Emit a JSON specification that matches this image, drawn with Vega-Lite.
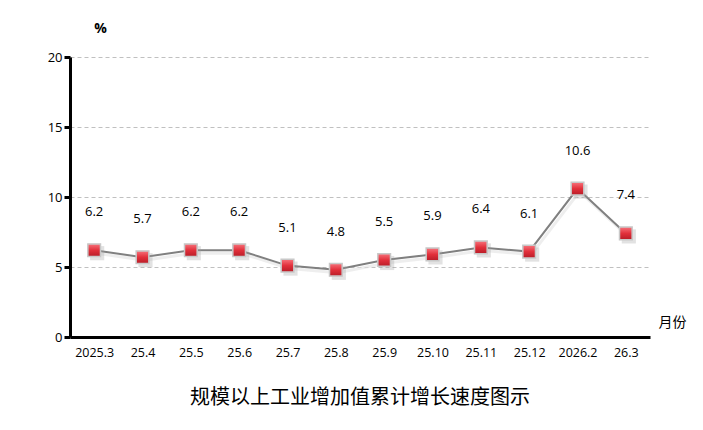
{
  "$schema": "https://vega.github.io/schema/vega-lite/v6.json",
  "autosize": "none",
  "width": 580,
  "height": 280,
  "padding": {"left": 70, "top": 57, "right": 53, "bottom": 93},
  "background": "white",
  "view": {"stroke": null},
  "title": {
    "text": "规模以上工业增加值累计增长速度图示",
    "orient": "bottom",
    "anchor": "middle",
    "offset": 29,
    "font": "Noto Sans CJK SC",
    "fontSize": 20,
    "fontWeight": "normal",
    "color": "black"
  },
  "data": {
    "values": [
      {"month": "2025.3", "value": 6.2},
      {"month": "25.4", "value": 5.7},
      {"month": "25.5", "value": 6.2},
      {"month": "25.6", "value": 6.2},
      {"month": "25.7", "value": 5.1},
      {"month": "25.8", "value": 4.8},
      {"month": "25.9", "value": 5.5},
      {"month": "25.10", "value": 5.9},
      {"month": "25.11", "value": 6.4},
      {"month": "25.12", "value": 6.1},
      {"month": "2026.2", "value": 10.6},
      {"month": "26.3", "value": 7.4}
    ]
  },
  "encoding": {
    "x": {
      "field": "month",
      "type": "ordinal",
      "sort": null,
      "scale": {"type": "point", "padding": 0.5},
      "axis": {
        "title": "月份",
        "titleFont": "Noto Sans CJK SC",
        "titleFontSize": 14,
        "titleFontWeight": "normal",
        "titleColor": "black",
        "titleAnchor": "start",
        "titleAlign": "center",
        "titleBaseline": "middle",
        "titleX": 602,
        "titleY": -15,
        "labelAngle": 0,
        "labelFont": "Open Sans",
        "labelFontSize": 12.5,
        "labelColor": "black",
        "labelPadding": 9,
        "ticks": false,
        "domainColor": "black",
        "domainWidth": 3,
        "grid": false
      }
    },
    "y": {
      "field": "value",
      "type": "quantitative",
      "scale": {"domain": [0, 20], "nice": false},
      "axis": {
        "title": "%",
        "titleAngle": 0,
        "titleX": 30,
        "titleY": -29,
        "titleAlign": "center",
        "titleBaseline": "middle",
        "titleFont": "Open Sans",
        "titleFontSize": 14,
        "titleFontWeight": "bold",
        "titleColor": "black",
        "values": [0, 5, 10, 15, 20],
        "labelFont": "Open Sans",
        "labelFontSize": 13,
        "labelColor": "black",
        "labelPadding": 2,
        "tickColor": "black",
        "tickWidth": 3,
        "tickSize": 6,
        "domainColor": "black",
        "domainWidth": 3,
        "grid": true,
        "gridColor": "#c0c0c0",
        "gridDash": [4, 3],
        "gridWidth": 1
      }
    }
  },
  "layer": [
    {
      "mark": {"type": "line", "color": "#e2e2e2", "strokeWidth": 3, "xOffset": 2, "yOffset": 3, "opacity": 0.6}
    },
    {
      "mark": {"type": "line", "color": "#808080", "strokeWidth": 2}
    },
    {
      "mark": {"type": "point", "shape": "square", "filled": true, "size": 200, "color": "#a0a0a0", "opacity": 0.3, "xOffset": 3, "yOffset": 3}
    },
    {
      "mark": {
        "type": "point",
        "shape": "square",
        "filled": true,
        "size": 160,
        "opacity": 1,
        "fill": {
          "gradient": "linear",
          "x1": 0, "y1": 0, "x2": 0, "y2": 1,
          "stops": [
            {"offset": 0, "color": "#f7737c"},
            {"offset": 0.5, "color": "#e2303b"},
            {"offset": 1, "color": "#b81c27"}
          ]
        },
        "stroke": "#c8c8c8",
        "strokeWidth": 1.5
      }
    },
    {
      "mark": {"type": "text", "dy": -38, "font": "Open Sans", "fontSize": 13, "color": "black"},
      "encoding": {"text": {"field": "value", "type": "quantitative", "format": ".1f"}}
    }
  ]
}
